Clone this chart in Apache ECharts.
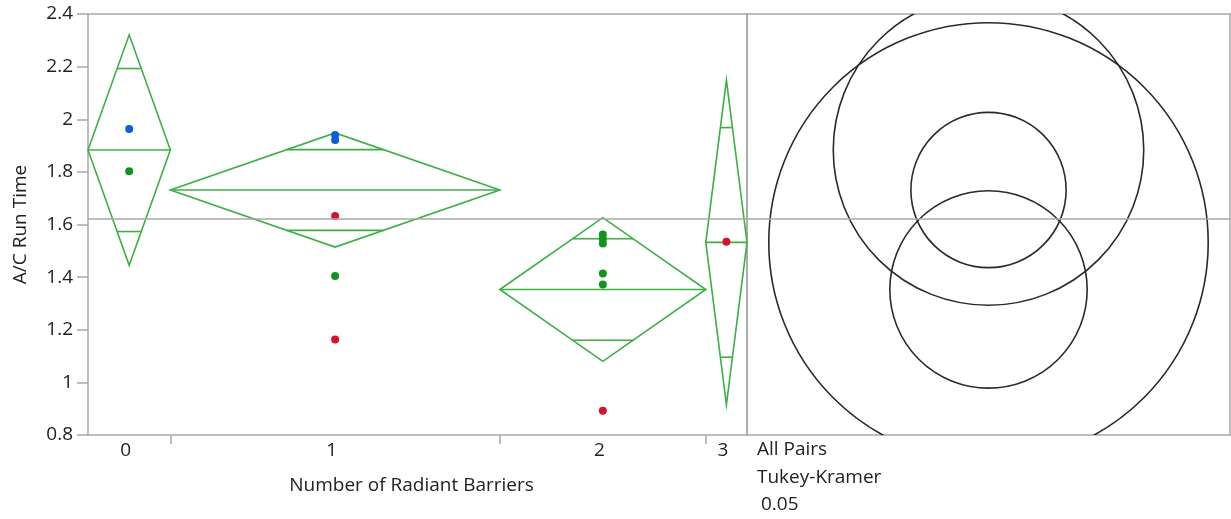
<!DOCTYPE html>
<html>
<head>
<meta charset="utf-8">
<script src="https://cdn.jsdelivr.net/npm/echarts@6/dist/echarts.min.js"></script>
<style>
  html, body { margin: 0; padding: 0; background: #fff; }
  #chart { width: 1231px; height: 519px; }
</style>
</head>
<body>
<div id="chart"></div>
<script>
// group data
const groupNames = ["0", "1", "2", "3"];
const groupSizes = [2, 8, 5, 1]; // diamond widths follow group size
const groupMeans = [1.883, 1.731, 1.353, 1.532];
const ciHalf = [0.438, 0.217, 0.273, 0.617];
const circleRadius = [0.59, 0.295, 0.375, 0.835];
const grandMean = 1.621;

// points: [group index, A/C run time]
const bluePoints = [[0, 1.963], [1, 1.94], [1, 1.921]];
const greenPoints = [[0, 1.802], [1, 1.404], [2, 1.562], [2, 1.545], [2, 1.528], [2, 1.414], [2, 1.372]];
const redPoints = [[1, 1.632], [1, 1.163], [2, 0.892], [3, 1.534]];

const yMin = 0.8, yMax = 2.4, yStep = 0.2;

// group boundaries along x
const starts = [];
let acc = 0;
groupSizes.forEach((n) => { starts.push(acc); acc += n; });
const total = acc;
const centers = groupSizes.map((n, i) => starts[i] + n / 2);
const bounds = starts.slice(1);

const FONT = "Open Sans";
const TXT = "#222";
const GRAY = "#a8a8a8";
const GREEN = "#3cb043";

const chart = echarts.init(document.getElementById("chart"));

function pts(list) {
  return list.map(([g, v]) => [centers[g], v]);
}

const grandLine = {
  silent: true,
  symbol: "none",
  label: { show: false },
  lineStyle: { color: GRAY, width: 1.5, type: "solid" },
  data: [{ yAxis: grandMean }],
};

chart.setOption({
  animation: false,
  textStyle: { fontFamily: FONT },
  grid: [
    { left: 88, top: 14, width: 659, height: 421, show: true, borderColor: GRAY, borderWidth: 1.5 },
    { left: 747, top: 14, width: 483, height: 421, show: true, borderColor: GRAY, borderWidth: 1.5 },
  ],
  xAxis: [
    {
      type: "value",
      gridIndex: 0,
      min: 0,
      max: total,
      axisLine: { show: false },
      splitLine: { show: false },
      axisTick: { show: true, length: 9, customValues: bounds, lineStyle: { color: GRAY, width: 1.5 } },
      axisLabel: {
        show: true,
        customValues: centers,
        margin: 6,
        color: TXT,
        fontSize: 19,
        fontFamily: FONT,
        padding: [0, 7, 0, 0],
        formatter: (v) => groupNames[centers.findIndex((c) => Math.abs(c - v) < 1e-6)],
      },
      name: "Number of Radiant Barriers",
      nameLocation: "middle",
      nameGap: 41,
      nameTextStyle: { color: TXT, fontSize: 19, fontFamily: FONT, padding: [0, 12, 0, 0] },
    },
    { type: "value", gridIndex: 1, min: -1, max: 1, show: false },
  ],
  yAxis: [
    {
      type: "value",
      gridIndex: 0,
      min: yMin,
      max: yMax,
      interval: yStep,
      axisLine: { show: false },
      splitLine: { show: false },
      axisTick: { show: true, length: 11, lineStyle: { color: GRAY, width: 1.5 } },
      axisLabel: { color: TXT, fontSize: 19, fontFamily: FONT, margin: 15 },
      name: "A/C Run Time",
      nameLocation: "middle",
      nameGap: 58,
      nameTextStyle: { color: TXT, fontSize: 19, fontFamily: FONT },
    },
    { type: "value", gridIndex: 1, min: yMin, max: yMax, show: false },
  ],
  graphic: [
    { type: "text", left: 757, top: 440, style: { text: "All Pairs", fill: TXT, font: "19px 'Open Sans'" } },
    { type: "text", left: 757, top: 468, style: { text: "Tukey-Kramer", fill: TXT, font: "19px 'Open Sans'" } },
    { type: "text", left: 761, top: 495, style: { text: "0.05", fill: TXT, font: "19px 'Open Sans'" } },
  ],
  series: [
    {
      // means diamonds
      type: "custom",
      xAxisIndex: 0,
      yAxisIndex: 0,
      encode: { x: [0, 1], y: [2] },
      data: groupMeans.map((m, i) => [starts[i], starts[i] + groupSizes[i], m, ciHalf[i]]),
      renderItem: (params, api) => {
        const x0 = api.value(0), x1 = api.value(1), m = api.value(2), h = api.value(3);
        const xc = (x0 + x1) / 2;
        const L = api.coord([x0, m]);
        const R = api.coord([x1, m]);
        const T = api.coord([xc, m + h]);
        const B = api.coord([xc, m - h]);
        const k = h / Math.SQRT2;
        const hw = ((R[0] - L[0]) / 2) * (1 - 1 / Math.SQRT2);
        const up = api.coord([xc, m + k]);
        const dn = api.coord([xc, m - k]);
        const st = { stroke: GREEN, lineWidth: 1.6, fill: "none" };
        return {
          type: "group",
          children: [
            { type: "polygon", shape: { points: [L, T, R, B] }, style: st },
            { type: "line", shape: { x1: L[0], y1: L[1], x2: R[0], y2: R[1] }, style: st },
            { type: "line", shape: { x1: up[0] - hw, y1: up[1], x2: up[0] + hw, y2: up[1] }, style: st },
            { type: "line", shape: { x1: dn[0] - hw, y1: dn[1], x2: dn[0] + hw, y2: dn[1] }, style: st },
          ],
        };
      },
      markLine: grandLine,
      z: 2,
    },
    {
      type: "scatter",
      xAxisIndex: 0,
      yAxisIndex: 0,
      symbolSize: 8,
      itemStyle: { color: "#0b5ed7", opacity: 1 },
      data: pts(bluePoints),
      z: 3,
    },
    {
      type: "scatter",
      xAxisIndex: 0,
      yAxisIndex: 0,
      symbolSize: 8,
      itemStyle: { color: "#12941c", opacity: 1 },
      data: pts(greenPoints),
      z: 3,
    },
    {
      type: "scatter",
      xAxisIndex: 0,
      yAxisIndex: 0,
      symbolSize: 8,
      itemStyle: { color: "#d2142d", opacity: 1 },
      data: pts(redPoints),
      z: 3,
    },
    {
      // comparison circles
      type: "custom",
      xAxisIndex: 1,
      yAxisIndex: 1,
      clip: true,
      encode: { x: 0, y: 1 },
      data: groupMeans.map((m, i) => [0, m, circleRadius[i]]),
      renderItem: (params, api) => {
        const m = api.value(1), r = api.value(2);
        const c = api.coord([0, m]);
        const top = api.coord([0, m + r]);
        return {
          type: "circle",
          shape: { cx: c[0], cy: c[1], r: c[1] - top[1] },
          style: { fill: "none", stroke: "#2a2a2a", lineWidth: 1.6 },
        };
      },
      markLine: grandLine,
    },
  ],
});
</script>
</body>
</html>
